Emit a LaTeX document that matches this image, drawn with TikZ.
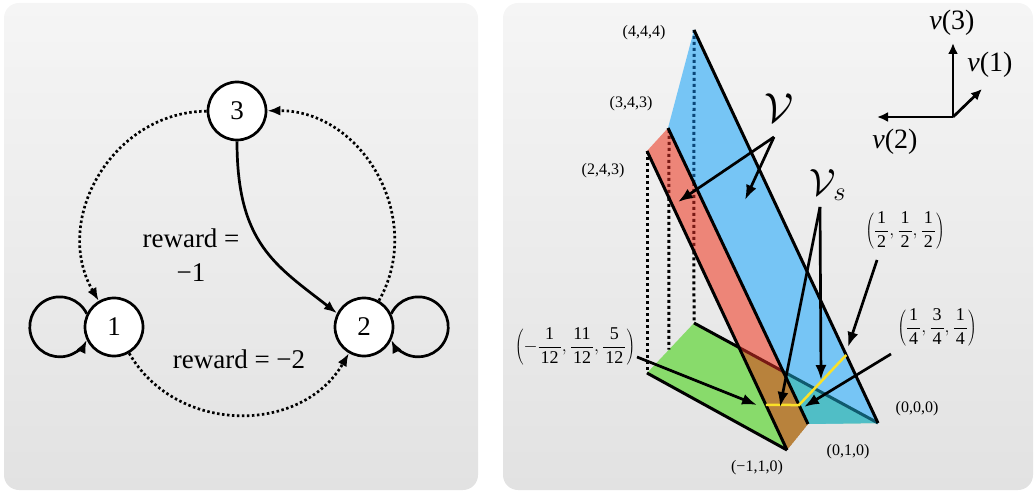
\RequirePackage{fix-cm}
\documentclass[tikz,border=0pt]{standalone}
\usepackage{fontspec}
\setmainfont{Liberation Serif}
\usetikzlibrary{arrows.meta}
\definecolor{topg}{RGB}{245,245,245}
\definecolor{botg}{RGB}{226,226,226}
\definecolor{bluef}{RGB}{118,197,245}
\definecolor{redf}{RGB}{237,133,120}
\definecolor{greenf}{RGB}{136,219,107}
\definecolor{brownf}{RGB}{184,130,60}
\definecolor{tealf}{RGB}{80,190,198}
\definecolor{darkredl}{RGB}{120,25,20}
\definecolor{darkbluel}{RGB}{10,70,120}
\definecolor{darkteall}{RGB}{15,90,110}
\definecolor{yel}{RGB}{250,225,40}
\newcommand\myfr[2]{\displaystyle\frac{\hspace{2pt}\textrm{#1}\hspace{2pt}}{\hspace{2pt}\textrm{#2}\hspace{2pt}}}
\tikzset{
  panel/.style={top color=topg, bottom color=botg, rounded corners=15pt},
  state/.style={circle, draw, line width=2.7pt, fill=white, minimum size=58pt, inner sep=0pt, font=\fontsize{27}{32}\selectfont},
  arrL/.style={line width=2.7pt, -{Latex[length=13pt,width=10pt]}},
  dotL/.style={line width=2.7pt, dash pattern=on 2.5pt off 2.5pt},
  bigtxt/.style={font=\fontsize{27}{34}\selectfont, align=center, inner sep=0pt},
  edgeR/.style={line width=3pt},
  dotR/.style={line width=3pt, dash pattern=on 3pt off 3pt},
  arrR/.style={line width=2.7pt, -{Latex[length=15pt,width=11pt]}},
  coordtxt/.style={font=\fontsize{16}{19}\selectfont, inner sep=0pt},
  fractxt/.style={font=\fontsize{18}{21}\selectfont, inner sep=0pt},
  axtxt/.style={font=\fontsize{28}{32}\selectfont, inner sep=0pt},
}
\begin{document}
\begin{tikzpicture}[x=1pt,y=1pt]
\useasboundingbox (0,0) rectangle (1035,493);
\shade[panel] (4,3) rectangle (478,490);
\shade[panel] (503,3) rectangle (1033,490);

% ---------- left panel ----------
\node[state] (n3) at (237,382) {3};
\node[state] (n1) at (114,166) {1};
\node[state] (n2) at (364,166) {2};

\draw[dotL, -{Latex[length=13pt,width=10pt]}] (n3) to[bend right=60, looseness=1.1] (n1);
\draw[dotL, -{Latex[length=13pt,width=10pt]}] (n1) to[bend right=60, looseness=1.1] (n2);
\draw[dotL, -{Latex[length=13pt,width=10pt]}] (n2) to[bend right=60, looseness=1.1] (n3);

\draw[arrL] (n3.south) .. controls (237,250) and (275,228) .. (n2.153);
\draw[arrL] (n1.154) arc[start angle=26, end angle=334, radius=30];
\draw[arrL] (n2.26) arc[start angle=154, end angle=-154, radius=30];

\node[bigtxt] (r1) at (191,238) {reward =\\−1};
\node[bigtxt] (r2) at (239,134) {reward = −2};

% ---------- right panel ----------
\coordinate (P444) at (694,463);
\coordinate (P343) at (668,365);
\coordinate (P243) at (647,342);
\coordinate (P000) at (878,70);
\coordinate (P010) at (808,69);
\coordinate (Pm110) at (787,43);
\coordinate (Gt) at (694,170);
\coordinate (Gl) at (647,120);
\coordinate (X1) at (intersection of Gt--P000 and P243--Pm110);
\coordinate (X2) at (intersection of Gt--P000 and P343--P010);

\fill[greenf] (Gt) -- (P000) -- (P010) -- (Pm110) -- (Gl) -- cycle;
\fill[redf] (P243) -- (P343) -- (P010) -- (Pm110) -- cycle;
\fill[bluef] (P444) -- (P000) -- (P010) -- (P343) -- cycle;
\begin{scope}
  \clip (Gt) -- (P000) -- (P010) -- (Pm110) -- (Gl) -- cycle;
  \fill[brownf] (P243) -- (P343) -- (P010) -- (Pm110) -- cycle;
  \fill[tealf] (P444) -- (P000) -- (P010) -- (P343) -- cycle;
\end{scope}

% dotted verticals
\draw[dotR] (P243) -- (Gl);
\coordinate (D2t) at (669,363);
\coordinate (D2m) at (intersection of 669,400--669,0 and P243--Pm110);
\coordinate (D2b) at (intersection of 669,400--669,0 and Gl--Gt);
\draw[dotR, darkredl] (D2t) -- (D2m);
\draw[dotR] (D2m) -- (D2b);
\coordinate (D3a) at (intersection of P444--Gt and P343--P010);
\coordinate (D3b) at (intersection of P444--Gt and P243--Pm110);
\draw[dotR, darkbluel] (P444) -- (D3a);
\draw[dotR, darkredl] (D3a) -- (D3b);
\draw[dotR] (D3b) -- (Gt);

% solid edges
\draw[edgeR] (Gt) -- (X1);
\draw[edgeR, darkredl] (X1) -- (X2);
\draw[edgeR, darkteall] (X2) -- (P000);
\draw[edgeR] (P444) -- (P000);
\draw[edgeR] (P343) -- (P010);
\draw[edgeR] (P243) -- (Pm110);
\draw[edgeR] (Gl) -- (Pm110);

% yellow
\coordinate (Ya) at (intersection of 700,88--900,88 and P243--Pm110);
\coordinate (Yb) at (intersection of 700,88--900,88 and P343--P010);
\coordinate (Yc) at (intersection of 700,138--900,138 and P444--P000);
\draw[line width=2.5pt, yel] (Ya) -- (Yb) -- (Yc);

% labels
\node[coordtxt] (L444) at (644,460) {(4,4,4)};
\node[coordtxt] (L343) at (631,389) {(3,4,3)};
\node[coordtxt] (L243) at (603,322) {(2,4,3)};
\node[coordtxt] (L000) at (917,84) {(0,0,0)};
\node[coordtxt] (L010) at (848,41) {(0,1,0)};
\node[coordtxt] (Lm110) at (757,25) {(−1,1,0)};

\node[inner sep=0pt, font=\fontsize{42}{46}\selectfont] (LV) at (779,385) {$\mathcal{V}$};
\node[inner sep=0pt, font=\fontsize{38}{42}\selectfont] (LVs) at (828,308) {$\mathcal{V}_s$};
\node[fractxt] (Fh) at (905,263) {$\left(\myfr{1}{2},\myfr{1}{2},\myfr{1}{2}\right)$};
\node[fractxt] (Fq) at (937,166) {$\left(\myfr{1}{4},\myfr{3}{4},\myfr{1}{4}\right)$};
\node[fractxt] (Ft) at (575,147) {$\left(-\myfr{1}{12},\myfr{11}{12},\myfr{5}{12}\right)$};

% arrows
\coordinate (Vs) at (774,356);
\coordinate (Ve1) at (678,291);
\coordinate (Ve2) at (745,293);
\draw[arrR] (Vs) -- (Ve1);
\draw[arrR] (Vs) -- (Ve2);
\coordinate (Ws) at (820,286);
\coordinate (We1) at (780,86);
\coordinate (We2) at (821,113);
\draw[arrR] (Ws) -- (We1);
\draw[arrR] (Ws) -- (We2);
\coordinate (Hs) at (877,233);
\coordinate (He) at (848,146);
\draw[arrR] (Hs) -- (He);
\coordinate (Qs) at (891,139);
\coordinate (Qe) at (804,86);
\draw[arrR] (Qs) -- (Qe);
\coordinate (Ts) at (637,136);
\coordinate (Te) at (757,88);
\draw[arrR] (Ts) -- (Te);

% axes
\coordinate (O) at (953,376);
\coordinate (A3) at (953,450);
\coordinate (A2) at (877,376);
\coordinate (A1) at (982,404);
\draw[line width=2.7pt, -{Latex[length=11pt,width=10pt]}] (O) -- (A3);
\draw[line width=2.7pt, -{Latex[length=11pt,width=10pt]}] (O) -- (A2);
\draw[line width=2.7pt, -{Latex[length=11pt,width=10pt]}] (O) -- (A1);
\node[axtxt] (T3) at (952,470) {\textit{v}(3)};
\node[axtxt] (T1) at (990,428) {\textit{v}(1)};
\node[axtxt] (T2) at (895,351) {\textit{v}(2)};
\end{tikzpicture}
\end{document}
